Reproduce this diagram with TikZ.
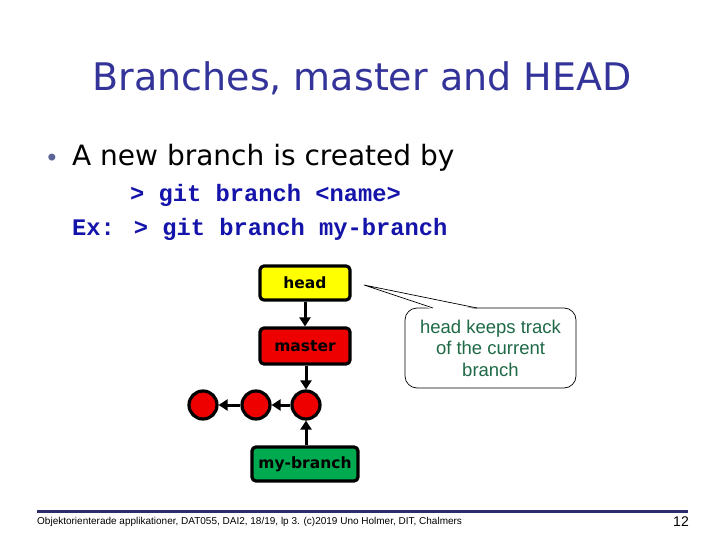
\documentclass[tikz,border=0pt]{standalone}
\usepackage{fontspec}
\setmainfont{DejaVu Sans}
\newfontfamily\arialf{Liberation Sans}
\newfontfamily\monof{Liberation Mono}
\usetikzlibrary{arrows.meta}
\definecolor{titleblue}{RGB}{51,51,153}
\definecolor{codeblue}{RGB}{20,20,170}
\definecolor{bulletc}{RGB}{90,100,150}
\definecolor{headyellow}{RGB}{255,255,0}
\definecolor{nodered}{RGB}{238,0,0}
\definecolor{branchgreen}{RGB}{0,170,80}
\definecolor{notegreen}{RGB}{30,105,70}
\definecolor{footbar}{RGB}{45,45,110}
\tikzset{
  refbox/.style={draw=black, line width=3.2pt, rounded corners=4pt, minimum height=34pt, inner sep=0pt, text=black, font=\bfseries\fontsize{15.5}{17}\selectfont},
  commit/.style={circle, draw=black, line width=3.2pt, fill=nodered, minimum size=28pt, inner sep=0pt},
  link/.style={line width=3pt, -{Triangle[length=9pt,width=11pt]}},
}
\begin{document}
\begin{tikzpicture}[x=1pt,y=-1pt]
\useasboundingbox (0,0) rectangle (720,540);
% title
\node[text=titleblue, font=\fontsize{38}{40}\selectfont, anchor=base] (title) at (362,91) {Branches, master and HEAD};
% bullet
\node[text=bulletc, font=\fontsize{24}{26}\selectfont, anchor=base] (bul) at (52,167) {•};
\node[font=\fontsize{28}{30}\selectfont, anchor=base west, inner sep=0pt] (txt) at (72,166) {A new branch is created by};
\node[text=codeblue, font=\monof\bfseries\fontsize{23.75}{26}\selectfont, anchor=base west, inner sep=0pt] (code1) at (130,202) {> git branch <name>};
\node[text=codeblue, font=\monof\bfseries\fontsize{23.75}{26}\selectfont, anchor=base west, inner sep=0pt] (code2) at (72,236) {Ex: > git branch my-branch};
% diagram
\node[refbox, fill=headyellow, minimum width=90pt] (head) at (305,283) {head};
\node[refbox, fill=nodered, minimum width=90pt, minimum height=36pt] (master) at (305,346) {master};
\node[commit] (c1) at (203,405) {};
\node[commit] (c2) at (256,405) {};
\node[commit] (c3) at (306,405) {};
\node[refbox, fill=branchgreen, minimum width=106pt] (mybranch) at (305,464) {my-branch};
\draw[link] (head.south) -- (master.north);
\draw[link] (master.south -| c3) -- (c3.north);
\draw[link] (mybranch.north -| c3) -- (c3.south);
\draw[link] (c3) -- (c2);
\draw[link] (c2) -- (c1);
% callout
\node[draw=black, line width=0.7pt, fill=white, rounded corners=12pt, minimum width=171pt, minimum height=80pt, inner sep=0pt, align=center, text=notegreen, font=\arialf\fontsize{18.5}{21.5}\selectfont] (note) at (490.5,348) {head keeps track\\of the current\\branch};
\coordinate (tip) at (364,285);
\fill[white] (tip) -- (433,309.5) -- (477,309.5) -- cycle;
\draw[line width=0.7pt] (433,308) -- (tip) -- (477,308);
% footer
\draw[footbar, line width=3pt] (37,511) -- (688,511);
\node[font=\arialf\fontsize{10}{11}\selectfont, anchor=base west, inner sep=0pt] (foot) at (37,524) {Objektorienterade applikationer, DAT055, DAI2, 18/19, lp 3. (c)2019 Uno Holmer, DIT, Chalmers};
\node[font=\arialf\fontsize{14}{16}\selectfont, anchor=base east, inner sep=0pt] (pnum) at (689,526) {12};
\end{tikzpicture}
\end{document}
